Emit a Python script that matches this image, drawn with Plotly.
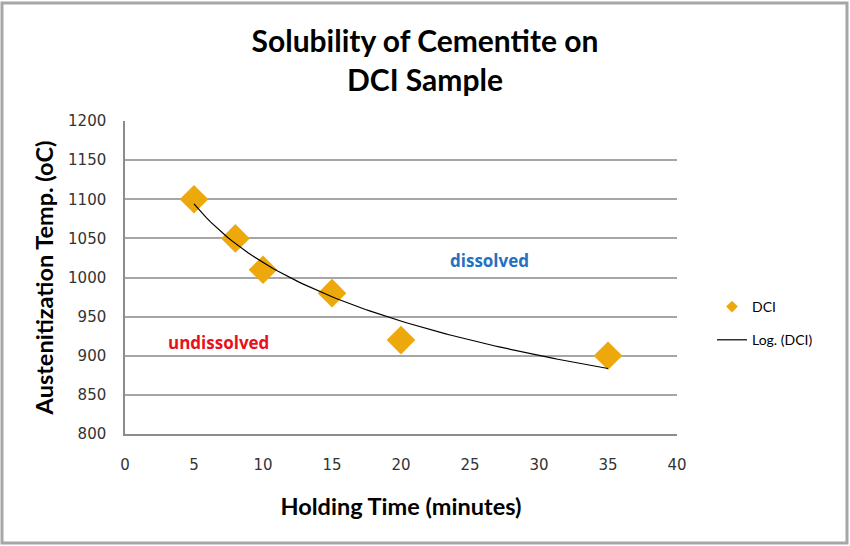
import numpy as np
import plotly.graph_objects as go

# Data
holding_time = [5, 8, 10, 15, 20, 35]
aust_temp = [1100, 1050, 1010, 980, 920, 900]
x_ticks = [0, 5, 10, 15, 20, 25, 30, 35, 40]
y_ticks = [800, 850, 900, 950, 1000, 1050, 1100, 1150, 1200]

# Logarithmic trendline fitted to the data (as Excel's "Log." trendline)
a, b = np.polyfit(np.log(holding_time), aust_temp, 1)
trend_x = np.linspace(min(holding_time), max(holding_time), 100)
trend_y = a * np.log(trend_x) + b

W, H = 850, 546
L, R, T, B = 125, 173, 121, 112
pw, ph = W - L - R, H - T - B

def px_x(p):
    return (p - L) / pw

def px_y(p):
    return (H - B - p) / ph

marker_color = "#EDA80C"
fig = go.Figure()
fig.add_trace(go.Scatter(
    x=holding_time, y=aust_temp, mode="markers", name="DCI",
    legendgroup="g1", showlegend=False,
    marker=dict(symbol="diamond", size=22, color=marker_color, line=dict(width=0)),
))
# legend entry for the DCI series (smaller symbol, as in the reference legend)
fig.add_trace(go.Scatter(
    x=[None], y=[None], mode="markers", name="DCI",
    legendgroup="g1", showlegend=True,
    marker=dict(symbol="diamond", size=9, color=marker_color, line=dict(width=0)),
))
fig.add_trace(go.Scatter(
    x=trend_x, y=trend_y, mode="lines", name="Log. (DCI)",
    legendgroup="g2",
    line=dict(color="#000000", width=1.2),
))

tick_font = dict(family="DejaVu Sans", size=15, color="#333333")
fig.update_layout(
    width=W, height=H,
    margin=dict(l=L, r=R, t=T, b=B),
    paper_bgcolor="white", plot_bgcolor="white",
    title=dict(text="<b>Solubility of Cementite on<br>DCI Sample</b>",
               x=0.5, xanchor="center", y=1 - 52 / H, yanchor="top",
               font=dict(family="Lato", size=30, color="#000000")),
    xaxis=dict(range=[0, 40], tickvals=x_ticks, showgrid=False,
               showline=True, linecolor="#8C8C8C", linewidth=1.5,
               ticks="", tickfont=tick_font, ticklabelstandoff=16,
               zeroline=False,
               title=dict(text="<b>Holding Time (minutes)</b>", standoff=26,
                          font=dict(family="Lato", size=23.5, color="#000000"))),
    yaxis=dict(range=[800, 1200], tickvals=y_ticks, showgrid=True,
               gridcolor="#A6A6A6", gridwidth=1.5,
               showline=True, linecolor="#8C8C8C", linewidth=1.5,
               ticks="", tickfont=tick_font, ticklabelstandoff=14,
               zeroline=False,
               title=dict(text="<b>Austenitization Temp. (oC)</b>", standoff=8,
                          font=dict(family="Lato", size=23.5, color="#000000"))),
    legend=dict(x=px_x(712), y=px_y(291), xanchor="left", yanchor="top",
                font=dict(family="Lato", size=14, color="#000000"),
                tracegroupgap=12,
                bgcolor="rgba(0,0,0,0)"),
    showlegend=True,
)

fig.add_annotation(x=26.4, y=1022, text="<b>dissolved</b>", showarrow=False,
                   font=dict(family="Open Sans", size=17, color="#2570C0"))
fig.add_annotation(x=6.8, y=917, text="<b>undissolved</b>", showarrow=False,
                   font=dict(family="Open Sans", size=17, color="#E8101A"))

# Outer chart border
fig.add_shape(type="rect", xref="paper", yref="paper",
              x0=px_x(2), x1=px_x(847), y0=px_y(543), y1=px_y(3),
              line=dict(color="#A6A6A6", width=3), layer="below")

fig.write_html("out.html", config={"displayModeBar": False},
               post_script="document.body.style.margin='0';")
